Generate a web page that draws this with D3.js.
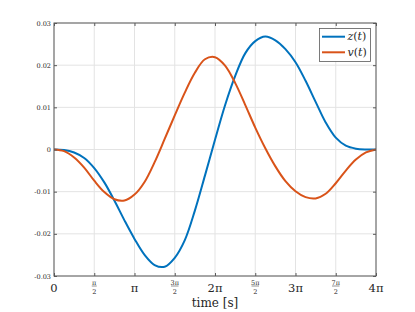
<!DOCTYPE html>
<html>
<head>
<meta charset="utf-8">
<script src="https://cdn.jsdelivr.net/npm/d3@7"></script>
<style>
  html, body { margin: 0; padding: 0; background: #fff; }
  svg { display: block; }
</style>
</head>
<body>
<div id="chart"></div>
<script>
// time samples, in units of pi
const tPi = [0, 0.125, 0.25, 0.375, 0.5, 0.625, 0.75, 0.875, 1, 1.125, 1.25, 1.375, 1.5, 1.625, 1.75, 1.875,
    2, 2.125, 2.25, 2.375, 2.5, 2.625, 2.75, 2.875, 3, 3.125, 3.25, 3.375, 3.5, 3.625, 3.75, 3.875, 4];

const zValues = [0, -0.0001, -0.0007, -0.0020, -0.0044, -0.0078, -0.0121, -0.0168, -0.0212, -0.0250, -0.0274,
    -0.0278, -0.0257, -0.0215, -0.0145, -0.0062, 0.0023, 0.0105, 0.0174, 0.0228, 0.0257, 0.0268, 0.0259,
    0.0238, 0.0207, 0.0163, 0.0113, 0.0064, 0.0028, 0.0009, 0.0002, 0.0000, 0];

const vValues = [0, -0.0004, -0.0019, -0.0043, -0.0074, -0.0101, -0.0118, -0.0121, -0.0107, -0.0077, -0.0030,
    0.0025, 0.0081, 0.0135, 0.0182, 0.0214, 0.0219, 0.0199, 0.0158, 0.0106, 0.0052, 0.0003, -0.0040,
    -0.0075, -0.0099, -0.0113, -0.0116, -0.0105, -0.0080, -0.0050, -0.0024, -0.0007, 0];

const xTickPi = [0, 0.5, 1, 1.5, 2, 2.5, 3, 3.5, 4];
const xTickLabels = ["0", "π/2", "π", "3π/2", "2π", "5π/2", "3π", "7π/2", "4π"];
const yTicks = [-0.03, -0.02, -0.01, 0, 0.01, 0.02, 0.03];
const yTickLabels = ["-0.03", "-0.02", "-0.01", "0", "0.01", "0.02", "0.03"];

const seriesNames = ["z", "v"];
const seriesColors = ["#0072BD", "#D95319"];

const width = 415;
const height = 312;
const plot = { left: 54, right: 376, top: 23, bottom: 276 };
const serif = "DejaVu Serif";

const svg = d3.select("#chart").append("svg")
    .attr("width", width)
    .attr("height", height);

svg.append("rect").attr("width", width).attr("height", height).attr("fill", "#fff");

const x = d3.scaleLinear().domain([0, 4 * Math.PI]).range([plot.left, plot.right]);
const y = d3.scaleLinear().domain([-0.03, 0.03]).range([plot.bottom, plot.top]);
const xTickVals = xTickPi.map(k => k * Math.PI);

// grid
svg.append("g").selectAll("line")
    .data(xTickVals).enter().append("line")
    .attr("x1", d => x(d)).attr("x2", d => x(d))
    .attr("y1", plot.top).attr("y2", plot.bottom)
    .attr("stroke", "#e3e3e3").attr("stroke-width", 1);

svg.append("g").selectAll("line")
    .data(yTicks).enter().append("line")
    .attr("x1", plot.left).attr("x2", plot.right)
    .attr("y1", d => y(d)).attr("y2", d => y(d))
    .attr("stroke", "#e3e3e3").attr("stroke-width", 1);

// curves
const line = d3.line()
    .x((d, i) => x(tPi[i] * Math.PI))
    .y(d => y(d))
    .curve(d3.curveCatmullRom);

[zValues, vValues].forEach((vals, i) => {
    svg.append("path")
        .datum(vals)
        .attr("fill", "none")
        .attr("stroke", seriesColors[i])
        .attr("stroke-width", 2)
        .attr("d", line);
});

// axes (ticks inside, box on)
const axisColor = "#5a5a5a";

function styleAxis(g) {
    g.attr("font-family", serif);
    g.select(".domain").remove();
    g.selectAll(".tick line").attr("stroke", axisColor);
}

svg.append("g")
    .attr("transform", `translate(0,${plot.bottom})`)
    .call(d3.axisBottom(x).tickValues(xTickVals).tickSize(-3).tickFormat(""))
    .call(styleAxis);

svg.append("g")
    .attr("transform", `translate(0,${plot.top})`)
    .call(d3.axisTop(x).tickValues(xTickVals).tickSize(-3).tickFormat(""))
    .call(styleAxis);

svg.append("g")
    .attr("transform", `translate(${plot.left},0)`)
    .call(d3.axisLeft(y).tickValues(yTicks).tickSize(-3).tickPadding(3)
        .tickFormat((d, i) => yTickLabels[i]))
    .call(styleAxis)
    .selectAll("text")
    .attr("fill", "#262626")
    .attr("font-size", 6.5);

svg.append("g")
    .attr("transform", `translate(${plot.right},0)`)
    .call(d3.axisRight(y).tickValues(yTicks).tickSize(-3).tickFormat(""))
    .call(styleAxis);

svg.append("rect")
    .attr("x", plot.left).attr("y", plot.top)
    .attr("width", plot.right - plot.left).attr("height", plot.bottom - plot.top)
    .attr("fill", "none")
    .attr("stroke", axisColor)
    .attr("stroke-width", 1);

// x tick labels, with stacked fractions
const xLab = svg.append("g")
    .attr("font-family", serif)
    .attr("fill", "#262626")
    .attr("text-anchor", "middle");

xTickLabels.forEach((lab, i) => {
    const cx = x(xTickVals[i]);
    if (lab.includes("/")) {
        const [num, den] = lab.split("/");
        xLab.append("text").attr("x", cx).attr("y", 284.5)
            .attr("font-size", 6.5).text(num);
        const w = num.length > 1 ? 7.5 : 5;
        xLab.append("line")
            .attr("x1", cx - w / 2).attr("x2", cx + w / 2)
            .attr("y1", 286).attr("y2", 286)
            .attr("stroke", "#262626").attr("stroke-width", 0.5);
        xLab.append("text").attr("x", cx).attr("y", 293.5)
            .attr("font-size", 6.5).text(den);
    } else {
        xLab.append("text").attr("x", cx).attr("y", 291.5)
            .attr("font-size", 11.5).text(lab);
    }
});

svg.append("text")
    .attr("x", (plot.left + plot.right) / 2)
    .attr("y", 306.5)
    .attr("text-anchor", "middle")
    .attr("fill", "#262626")
    .attr("font-family", serif)
    .attr("font-size", 12)
    .text("time [s]");

// legend
const legend = svg.append("g");
legend.append("rect")
    .attr("x", 319.5).attr("y", 28.5)
    .attr("width", 51).attr("height", 33)
    .attr("fill", "#fff")
    .attr("stroke", axisColor)
    .attr("stroke-width", 0.8);

seriesNames.forEach((name, i) => {
    const ly = 36.7 + i * 15.6;
    legend.append("line")
        .attr("x1", 322).attr("x2", 345)
        .attr("y1", ly).attr("y2", ly)
        .attr("stroke", seriesColors[i])
        .attr("stroke-width", 2);
    const t = legend.append("text")
        .attr("x", 347.5).attr("y", ly + 3.5)
        .attr("fill", "#262626")
        .attr("font-family", serif)
        .attr("font-size", 11);
    t.append("tspan").attr("font-style", "italic").text(name);
    t.append("tspan").text("(");
    t.append("tspan").attr("font-style", "italic").text("t");
    t.append("tspan").text(")");
});
</script>
</body>
</html>
